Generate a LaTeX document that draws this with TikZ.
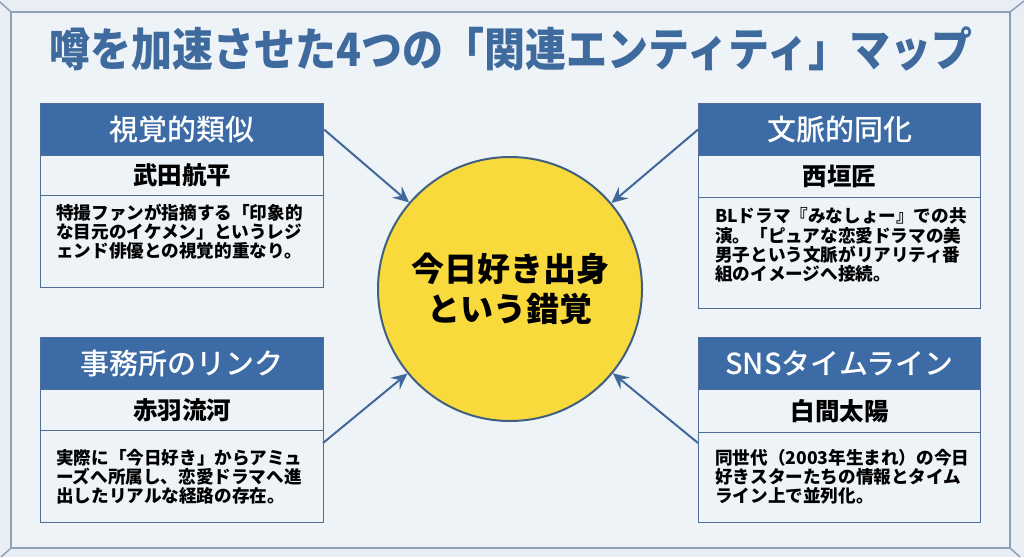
\documentclass[tikz,border=0pt]{standalone}
\usepackage{fontspec}
\setmainfont{Noto Sans CJK JP}
\newfontfamily\medfont{Noto Sans CJK JP Medium}
\usetikzlibrary{arrows.meta}
\definecolor{bgin}{HTML}{EEF3F8}
\definecolor{bgout}{HTML}{E8EEF4}
\definecolor{framec}{HTML}{8DA1B6}
\definecolor{hdr}{HTML}{3D6BA5}
\definecolor{titlec}{HTML}{3F6A9D}
\definecolor{boxline}{HTML}{4F6F96}
\definecolor{circfill}{HTML}{F8DA3C}
\definecolor{circline}{HTML}{41607F}
\definecolor{arrowc}{HTML}{41689A}
\tikzset{
  hdrbox/.style={rectangle, draw=boxline, line width=1.2pt, fill=hdr, text=white, inner sep=0pt,
    anchor=north west, minimum width=283pt, font=\medfont\fontsize{29}{31}\selectfont},
  namebox/.style={rectangle, draw=boxline, line width=1.2pt, fill=bgin, text=black, inner sep=0pt,
    anchor=north west, minimum width=283pt, font=\bfseries\fontsize{24.5}{26}\selectfont},
  bodybox/.style={rectangle, draw=boxline, line width=1.2pt, fill=bgin, inner sep=0pt,
    anchor=north west, minimum width=283pt},
  bodytxt/.style={anchor=west, align=left, inner sep=0pt, text=black,
    font=\bfseries\fontsize{17.6}{19.2}\selectfont},
  conn/.style={draw=arrowc, line width=2pt, -{Stealth[length=16pt,width=15pt,inset=6pt]}},
  framel/.style={draw=framec, line width=1.5pt}
}
\begin{document}
\begin{tikzpicture}[x=1pt,y=-1pt]
\useasboundingbox (0,0) rectangle (1024,557);
\fill[bgout] (0,0) rectangle (1024,557);
\fill[bgin] (11,12) rectangle (1010,548);
\draw[framel] (11,12) rectangle (1010,548);
\draw[framel] (0,2) -- (11,12);
\draw[framel] (1010,12) -- (1024,1);
\draw[framel] (11,548) -- (1,557);
\draw[framel] (1010,548) -- (1020,557);

% title
\node[text=titlec, font=\bfseries\fontsize{41}{44}\selectfont, inner sep=0pt] (title) at (511,49)
  {\scalebox{1}[1.12]{噂を加速させた4つの「関連エンティティ」マップ}};

% center circle
\node[circle, draw=circline, line width=2pt, fill=circfill, minimum size=264pt, inner sep=0pt,
  align=center, font=\bfseries\fontsize{33}{40}\selectfont] (c) at (510,289)
  {今日好き出身\\という錯覚};

% left top box
\node[hdrbox, minimum height=52pt] (lth) at (40,103) {視覚的類似};
\node[namebox, minimum height=40pt] (ltn) at (40,155) {武田航平};
\node[bodybox, minimum height=92pt] (ltb) at (40,195) {};
\node[bodytxt] (ltt) at (56,232) {特撮ファンが指摘する「印象的\\な目元のイケメン」というレジ\\ェンド俳優との視覚的重なり。};

% right top box
\node[hdrbox, minimum width=282pt, minimum height=52pt] (rth) at (698,103) {文脈的同化};
\node[namebox, minimum width=282pt, minimum height=42pt] (rtn) at (698,155) {西垣匠};
\node[bodybox, minimum width=282pt, minimum height=111pt] (rtb) at (698,197) {};
\node[bodytxt] (rtt) at (715,245) {BLドラマ『みなしょー』での共\\演。「ピュアな恋愛ドラマの美\\男子という文脈がリアリティ番\\組のイメージへ接続。};

% left bottom box
\node[hdrbox, minimum height=52pt] (lbh) at (40,337) {事務所のリンク};
\node[namebox, minimum height=41pt] (lbn) at (40,389) {赤羽流河};
\node[bodybox, minimum height=92pt] (lbb) at (40,430) {};
\node[bodytxt] (lbt) at (56,477) {実際に「今日好き」からアミュ\\ーズへ所属し、恋愛ドラマへ進\\出したリアルな経路の存在。};

% right bottom box
\node[hdrbox, minimum width=282pt, minimum height=52pt] (rbh) at (698,337) {SNSタイムライン};
\node[namebox, minimum width=282pt, minimum height=43pt] (rbn) at (698,389) {白間太陽};
\node[bodybox, minimum width=282pt, minimum height=90pt] (rbb) at (698,432) {};
\node[bodytxt] (rbt) at (715,477) {同世代（2003年生まれ）の今日\\好きスターたちの情報とタイム\\ライン上で並列化。};

% connectors
\coordinate (s1) at (lth.east);
\coordinate (s2) at (rth.west);
\coordinate (s3) at (323,443);
\coordinate (s4) at (698,443);
\draw[conn] (s1) -- (c);
\draw[conn] (s2) -- (c);
\draw[conn] (s3) -- (c);
\draw[conn] (s4) -- (c);
\end{tikzpicture}
\end{document}
